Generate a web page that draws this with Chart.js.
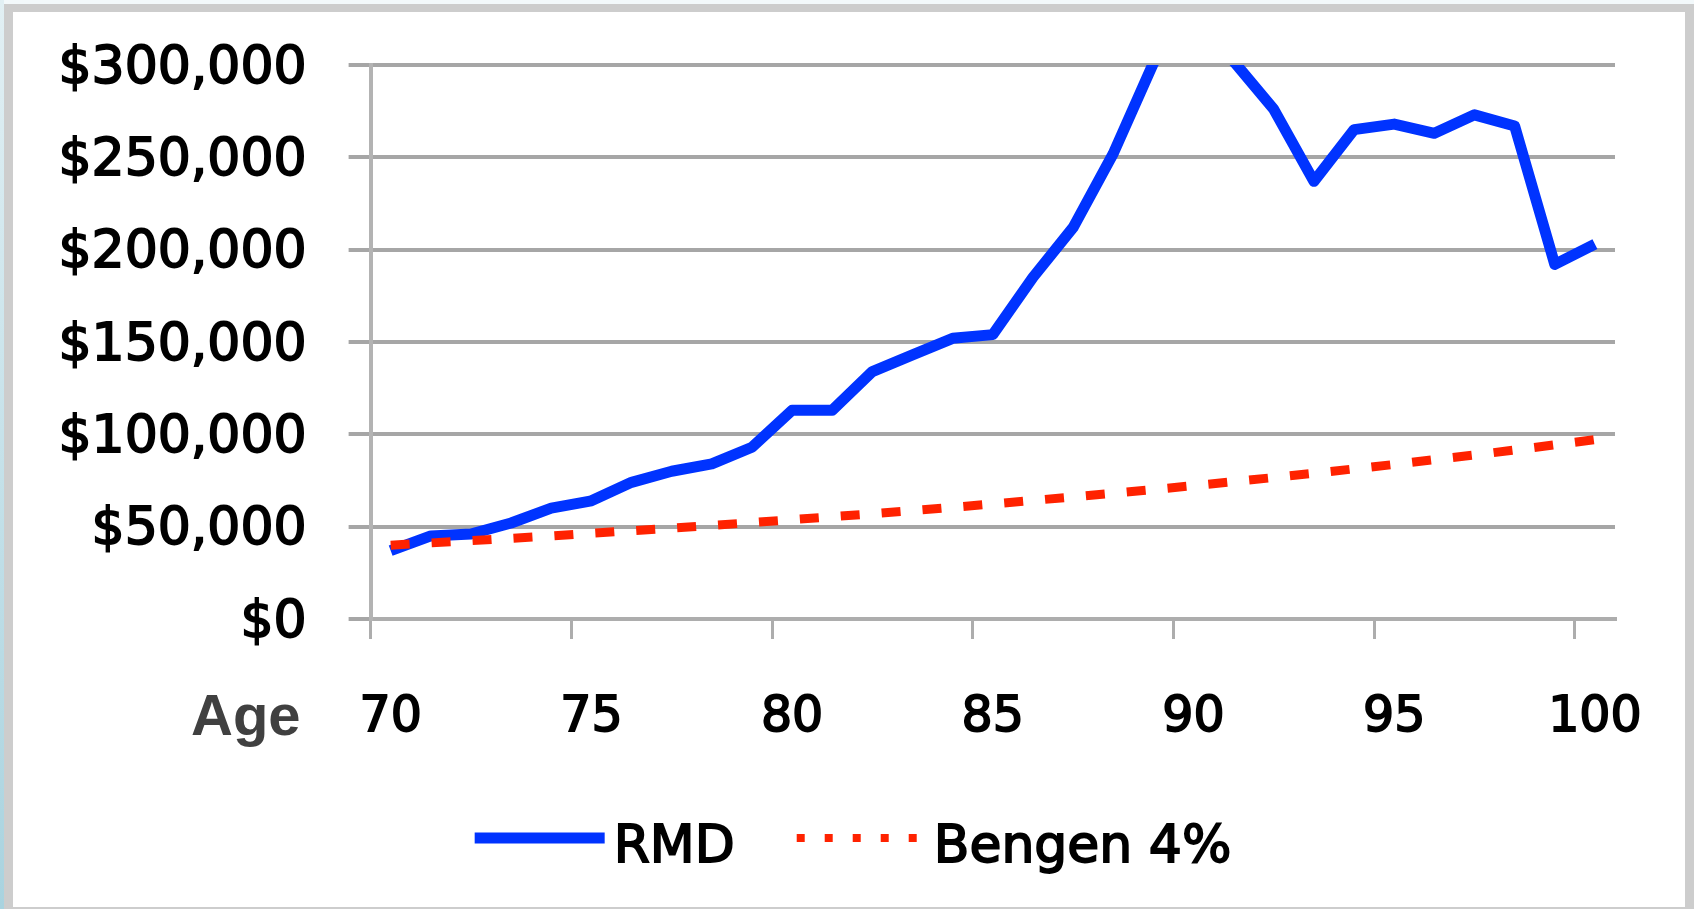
<!DOCTYPE html>
<html>
<head>
<meta charset="utf-8">
<script src="https://cdn.jsdelivr.net/npm/chart.js@4/dist/chart.umd.min.js"></script>
<style>
  html, body { margin: 0; padding: 0; }
  body { width: 1694px; height: 909px; background: #f3f9fb; position: relative; overflow: hidden; }
  #strip { position: absolute; left: 0; top: 0; width: 4px; height: 909px; background: linear-gradient(#e2f0f4, #a9d3df); }
  #frame { position: absolute; left: 4px; top: 4px; width: 1672px; height: 895px;
           border-style: solid; border-color: #cdcdcd; border-width: 8px 9px 2px 9px; background: #fff; }
</style>
</head>
<body>
<div id="strip"></div>
<div id="frame"><canvas id="chart"></canvas></div>
<script>
const ages = [70, 71, 72, 73, 74, 75, 76, 77, 78, 79, 80, 81, 82, 83, 84, 85,
              86, 87, 88, 89, 90, 91, 92, 93, 94, 95, 96, 97, 98, 99, 100];
const rmd = [37000, 45000, 46000, 52000, 60000, 64000, 74000, 80000, 84000, 93000,
             113000, 113000, 134000, 143000, 152000, 154000, 185000, 212000, 252000, 301000,
             330000, 302000, 276000, 237000, 265000, 268000, 263000, 273000, 267000, 192000, 203000];
const bengen = [40000, 41200, 42400, 43700, 45000, 46400, 47800, 49200, 50700, 52200,
                53800, 55400, 57000, 58700, 60500, 62300, 64200, 66100, 68100, 70100,
                72200, 74400, 76600, 78900, 81300, 83700, 86300, 88800, 91500, 94300, 97100];
const ageTicks = [70, 75, 80, 85, 90, 95, 100];
const yTicks = [0, 50000, 100000, 150000, 200000, 250000, 300000];

const gridGray = '#a6a6a6';

// axis title on the left of the age labels, and the legend row under the chart
const extras = {
    id: 'extras',
    afterDraw(chart) {
        const { ctx, chartArea } = chart;
        ctx.save();
        ctx.font = 'bold 58px "Liberation Sans"';
        ctx.fillStyle = '#404040';
        ctx.textAlign = 'right';
        ctx.textBaseline = 'alphabetic';
        ctx.fillText('Age', chartArea.left - 70, chartArea.bottom + 116);

        ctx.font = '52px "DejaVu Sans"';
        ctx.fillStyle = '#000';
        ctx.textAlign = 'left';
        const symbols = [
            { len: 130, gap: 9, dash: [], width: 11 },
            { len: 121, gap: 16, dash: [8, 20], width: 8 }
        ];
        const items = chart.data.datasets.map((ds, i) => ({
            ds: ds, sym: symbols[i], textW: ctx.measureText(ds.label).width
        }));
        const between = 62;
        let total = between * (items.length - 1);
        items.forEach(it => { total += it.sym.len + it.sym.gap + it.textW; });
        let x = chart.width / 2 + 4 - total / 2;
        const lineY = chartArea.bottom + 219;
        const textY = chartArea.bottom + 243;
        items.forEach(it => {
            ctx.beginPath();
            ctx.setLineDash(it.sym.dash);
            ctx.lineWidth = it.sym.width;
            ctx.strokeStyle = it.ds.borderColor;
            ctx.moveTo(x, lineY);
            ctx.lineTo(x + it.sym.len, lineY);
            ctx.stroke();
            x += it.sym.len + it.sym.gap;
            ctx.setLineDash([]);
            ctx.lineWidth = 1.8;
            ctx.strokeStyle = '#000';
            ctx.strokeText(it.ds.label, x, textY);
            ctx.fillText(it.ds.label, x, textY);
            x += it.textW + between;
        });
        ctx.restore();
    }
};

new Chart(document.getElementById('chart'), {
    type: 'line',
    data: {
        labels: ages,
        datasets: [
            {
                label: 'RMD',
                data: rmd,
                borderColor: '#0033ff',
                borderWidth: 11,
                borderJoinStyle: 'round',
                pointRadius: 0,
                clip: 0,
                order: 1
            },
            {
                label: 'Bengen 4%',
                data: bengen,
                borderColor: '#ff2200',
                borderWidth: 9,
                borderDash: [19, 22],
                borderCapStyle: 'butt',
                pointRadius: 0,
                clip: 0,
                order: 0
            }
        ]
    },
    options: {
        responsive: true,
        maintainAspectRatio: false,
        animation: false,
        events: [],
        layout: { padding: { top: 53, right: 70, bottom: 138, left: 0 } },
        plugins: {
            legend: { display: false },
            tooltip: { enabled: false }
        },
        scales: {
            x: {
                type: 'category',
                offset: true,
                grid: {
                    offset: true,
                    drawOnChartArea: false,
                    tickLength: 20,
                    lineWidth: 3,
                    color: ctx => (ctx.index % 5 === 0 ? '#adadad' : 'rgba(0,0,0,0)')
                },
                border: { display: true, color: '#adadad', width: 4 },
                ticks: {
                    autoSkip: false,
                    maxRotation: 0,
                    padding: 50,
                    color: '#000',
                    textStrokeColor: '#000',
                    textStrokeWidth: 1.8,
                    font: { family: 'DejaVu Sans', size: 49 },
                    callback: (v, i) => (ageTicks.includes(ages[i]) ? String(ages[i]) : '')
                },
                afterFit: s => { s.height = 150; s.paddingLeft = 0; s.paddingRight = 0; }
            },
            y: {
                min: 0,
                max: 300000,
                afterBuildTicks: s => { s.ticks = yTicks.map(v => ({ value: v })); },
                grid: { color: gridGray, lineWidth: 4, tickLength: 22 },
                border: { display: true, color: '#b3b3b3', width: 4 },
                ticks: {
                    padding: 42,
                    labelOffset: 4,
                    color: '#000',
                    textStrokeColor: '#000',
                    textStrokeWidth: 1.8,
                    font: { family: 'DejaVu Sans', size: 52 },
                    callback: v => '$' + v.toLocaleString('en-US')
                },
                afterFit: s => { s.width = 357.6; s.paddingTop = 0; s.paddingBottom = 0; }
            }
        }
    },
    plugins: [extras]
});
</script>
</body>
</html>
